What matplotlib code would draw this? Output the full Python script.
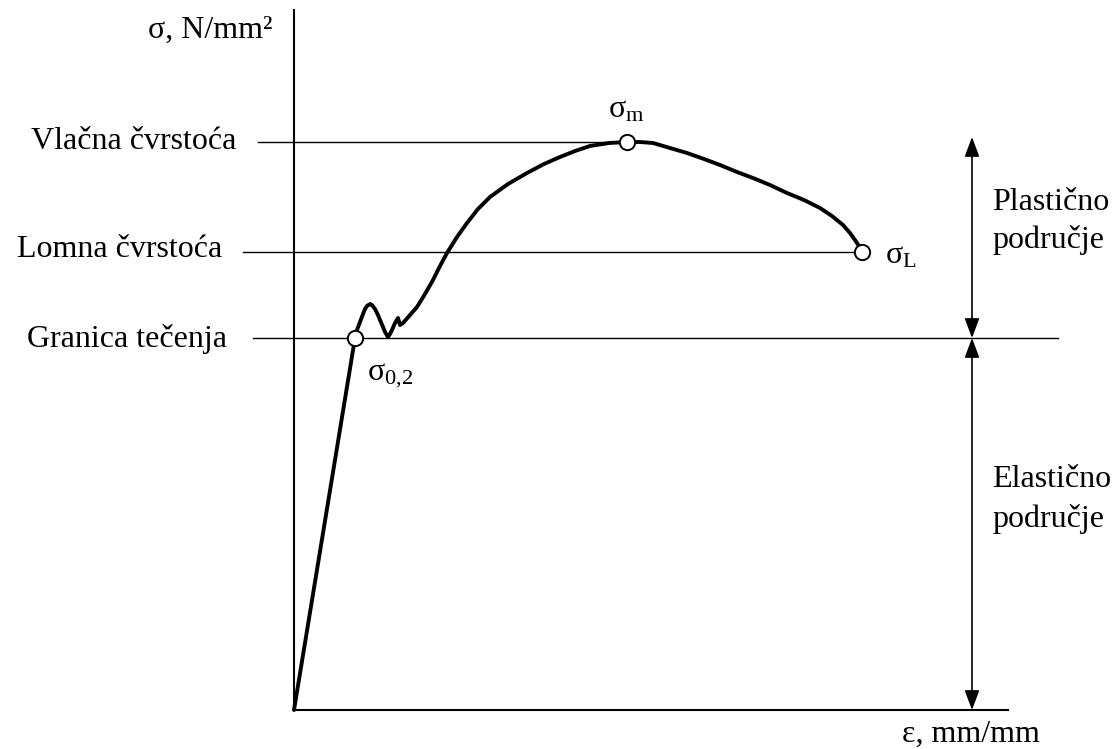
import matplotlib
matplotlib.use('Agg')
import matplotlib.pyplot as plt

plt.rcParams['font.family'] = ['Liberation Serif', 'DejaVu Serif']
plt.rcParams['mathtext.fontset'] = 'custom'
plt.rcParams['mathtext.rm'] = 'Liberation Serif'
plt.rcParams['mathtext.it'] = 'Liberation Serif:italic'

# krivulja naprezanje-istezanje (proizvoljne jedinice)
strain = [0, 61, 63, 66, 69, 71, 73, 76, 78, 81, 84, 86, 89, 91, 94, 96, 98, 101, 104, 106,
          109, 116, 123, 131, 139, 146, 153, 163, 173, 184, 196, 214, 233, 250, 266, 281,
          296, 315, 333, 346, 359, 376, 393, 410, 426, 443, 459, 476, 493, 510, 526, 538,
          549, 556, 561, 565, 568]
stress = [0, 372, 380, 388, 396, 401, 404, 406, 405, 401, 395, 390, 383, 378, 373, 376, 380,
          387, 392, 385, 387, 395, 403, 416, 430, 444, 457, 473, 487, 501, 513, 526, 537,
          546, 553, 559, 564, 567, 568, 568, 567, 562, 557, 551, 545, 538, 532, 525, 517,
          510, 502, 494, 485, 477, 470, 464, 458]

# karakteristične točke
eps_02, sig_02 = 61, 372
eps_m, sig_m = 333, 568
eps_L, sig_L = 568, 458

level_labels = ['Vlačna čvrstoća', 'Lomna čvrstoća', 'Granica tečenja']

fig = plt.figure(figsize=(11.15, 7.49), dpi=100)
ax = fig.add_axes([294 / 1115, 39 / 749, 714 / 1115, 700 / 749])
ax.set_xlim(0, 714)
ax.set_ylim(0, 700)
for s in ['top', 'right']:
    ax.spines[s].set_visible(False)
for s in ['left', 'bottom']:
    ax.spines[s].set_linewidth(1.5)
ax.set_xticks([])
ax.set_yticks([])

# horizontalne linije
ax.plot([-36, eps_m], [sig_m, sig_m], color='black', lw=1.0, clip_on=False)
ax.plot([-51, eps_L], [sig_L, sig_L], color='black', lw=1.0, clip_on=False)
ax.plot([-41, 764], [sig_02, sig_02], color='black', lw=1.0, clip_on=False)

# krivulja
ax.plot(strain, stress, color='black', lw=2.8, solid_joinstyle='round',
        solid_capstyle='round', clip_on=False, zorder=3)
ax.plot([eps_02, eps_m, eps_L], [sig_02, sig_m, sig_L], 'o', ms=11, mfc='white',
        mec='black', mew=1.4, clip_on=False, zorder=4)

# strelice za područja
arrow_x = 678
arr = dict(arrowstyle='<|-|>,head_length=0.8,head_width=0.3', color='black', lw=1.2,
           shrinkA=0, shrinkB=0, mutation_scale=15)
ax.annotate('', xy=(arrow_x, sig_02), xytext=(arrow_x, 573), arrowprops=arr,
            annotation_clip=False)
ax.annotate('', xy=(arrow_x, 0), xytext=(arrow_x, sig_02), arrowprops=arr,
            annotation_clip=False)

fs = 23
ax.text(-146, 672, 'σ, N/mm²', fontsize=fs, va='baseline', ha='left', clip_on=False)
ax.text(-58, 561, level_labels[0], fontsize=fs, va='baseline', ha='right', clip_on=False)
ax.text(-72, 453, level_labels[1], fontsize=fs, va='baseline', ha='right', clip_on=False)
ax.text(-67, 363, level_labels[2], fontsize=fs, va='baseline', ha='right', clip_on=False)

ax.text(698, 500, 'Plastično', fontsize=fs, va='baseline', ha='left', clip_on=False)
ax.text(698, 462, 'područje', fontsize=fs, va='baseline', ha='left', clip_on=False)
ax.text(698, 223, 'Elastično', fontsize=fs, va='baseline', ha='left', clip_on=False)
ax.text(698, 183, 'područje', fontsize=fs, va='baseline', ha='left', clip_on=False)

ax.text(746, -32, 'ε, mm/mm', fontsize=fs, va='baseline', ha='right', clip_on=False)

ax.text(314, 592, r'$\mathrm{σ}_{\mathrm{m}}$', fontsize=fs, va='baseline', ha='left')
ax.text(591, 447, r'$\mathrm{σ}_{\mathrm{L}}$', fontsize=fs, va='baseline', ha='left')
ax.text(73, 330, r'$\mathrm{σ}_{\mathrm{0{,}2}}$', fontsize=fs, va='baseline', ha='left')

fig.savefig('out.png', dpi=100)
